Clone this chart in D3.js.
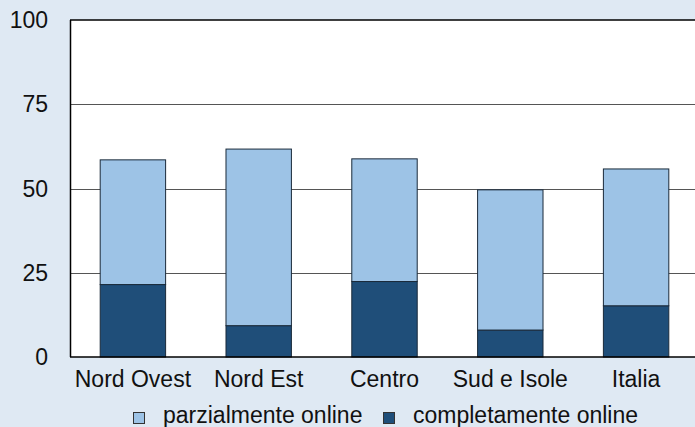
<!DOCTYPE html>
<html>
<head>
<meta charset="utf-8">
<script src="https://cdn.jsdelivr.net/npm/d3@7"></script>
<style>
  body { margin: 0; background: #dfe9f3; }
  svg { display: block; font-family: "Liberation Sans", Arial, sans-serif; }
</style>
</head>
<body>
<div id="chart"></div>
<script>
// categories and series (percent)
var regions = ["Nord Ovest", "Nord Est", "Centro", "Sud e Isole", "Italia"];
var completamente = [21.5, 9.3, 22.4, 8.0, 15.2];
var parzialmente = [37.0, 52.4, 36.4, 41.6, 40.6];
var yTicks = [0, 25, 50, 75, 100];

var width = 695, height = 427;
var margin = { top: 20, right: -4, bottom: 70, left: 70 };
var fontSize = 23;

var svg = d3.select("#chart").append("svg")
    .attr("width", width)
    .attr("height", height);

svg.append("rect").attr("width", width).attr("height", height).attr("fill", "#dfe9f3");

var x = d3.scaleBand()
    .domain(regions)
    .range([margin.left, width - margin.right])
    .paddingInner(0.48)
    .paddingOuter(0.24);

var y = d3.scaleLinear()
    .domain([0, 100])
    .range([height - margin.bottom, margin.top]);

// plot area
svg.append("rect")
    .attr("x", margin.left)
    .attr("y", y(100))
    .attr("width", width - margin.left)
    .attr("height", y(0) - y(100))
    .attr("fill", "#ffffff");

// gridlines
svg.selectAll(".grid")
    .data(yTicks.filter(function(d) { return d > 0 && d < 100; }))
    .enter().append("line")
    .attr("x1", margin.left)
    .attr("x2", width)
    .attr("y1", function(d) { return Math.round(y(d)) + 0.5; })
    .attr("y2", function(d) { return Math.round(y(d)) + 0.5; })
    .attr("stroke", "#555")
    .attr("stroke-width", 1);

// stack the data
var data = regions.map(function(r, i) {
    return { region: r, completamente: completamente[i], parzialmente: parzialmente[i] };
});
var stack = d3.stack().keys(["completamente", "parzialmente"]);
var series = stack(data);
var colors = { completamente: "#1f4e79", parzialmente: "#9dc3e6" };

svg.selectAll(".series")
    .data(series)
    .enter().append("g")
    .attr("fill", function(d) { return colors[d.key]; })
    .selectAll("rect")
    .data(function(d) { return d; })
    .enter().append("rect")
    .attr("x", function(d) { return x(d.data.region); })
    .attr("width", x.bandwidth())
    .attr("y", function(d) { return y(d[1]); })
    .attr("height", function(d) { return y(d[0]) - y(d[1]); })
    .attr("stroke", "#1a2a3a")
    .attr("stroke-width", 1);

// axes lines
svg.append("line")
    .attr("x1", margin.left + 0.5).attr("x2", margin.left + 0.5)
    .attr("y1", y(100)).attr("y2", y(0))
    .attr("stroke", "#000").attr("stroke-width", 1.5);
svg.append("line")
    .attr("x1", margin.left).attr("x2", width)
    .attr("y1", y(100)).attr("y2", y(100))
    .attr("stroke", "#000").attr("stroke-width", 1.5);
svg.append("line")
    .attr("x1", margin.left).attr("x2", width)
    .attr("y1", y(0)).attr("y2", y(0))
    .attr("stroke", "#000").attr("stroke-width", 1.5);

// y tick labels
svg.selectAll(".ytick")
    .data(yTicks)
    .enter().append("text")
    .attr("x", 48)
    .attr("y", function(d) { return y(d); })
    .attr("dy", "0.35em")
    .attr("text-anchor", "end")
    .attr("font-size", fontSize)
    .attr("fill", "#111")
    .text(function(d) { return d; });

// x labels
svg.selectAll(".xlabel")
    .data(regions)
    .enter().append("text")
    .attr("x", function(d) { return x(d) + x.bandwidth() / 2; })
    .attr("y", y(0) + 30)
    .attr("text-anchor", "middle")
    .attr("font-size", fontSize)
    .attr("fill", "#111")
    .text(function(d) { return d; });

// legend
var legendItems = [
    { label: "parzialmente online", color: colors.parzialmente, x: 133 },
    { label: "completamente online", color: colors.completamente, x: 383 }
];
var legend = svg.selectAll(".legend")
    .data(legendItems)
    .enter().append("g");
legend.append("rect")
    .attr("x", function(d) { return d.x + 0.5; })
    .attr("y", 412.5)
    .attr("width", 11)
    .attr("height", 11)
    .attr("fill", function(d) { return d.color; })
    .attr("stroke", "#333");
legend.append("text")
    .attr("x", function(d) { return d.x + 30; })
    .attr("y", 423)
    .attr("font-size", fontSize)
    .attr("fill", "#111")
    .text(function(d) { return d.label; });
</script>
</body>
</html>
